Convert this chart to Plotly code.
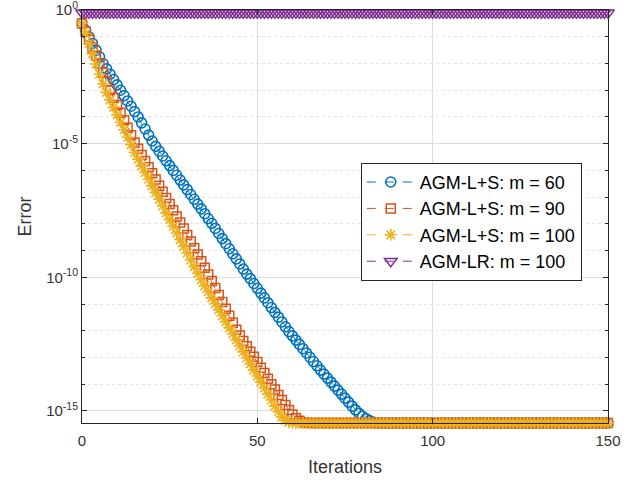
import plotly.graph_objects as go

# log10(error) read per iteration from the reference
blue_m60 = [
    -0.50, -0.75, -1.00, -1.25, -1.50, -1.75, -2.00, -2.20, -2.40, -2.60,
    -2.80, -3.00, -3.20, -3.40, -3.60, -3.80, -4.00, -4.22, -4.45, -4.68,
    -4.90, -5.10, -5.28, -5.46, -5.64, -5.82, -6.00, -6.18, -6.36, -6.54,
    -6.72, -6.90, -7.08, -7.26, -7.44, -7.62, -7.80, -7.98, -8.17, -8.36,
    -8.55, -8.74, -8.93, -9.12, -9.31, -9.50, -9.69, -9.88, -10.05, -10.23,
    -10.41, -10.59, -10.77, -10.95, -11.13, -11.31, -11.49, -11.67, -11.85, -12.03,
    -12.19, -12.35, -12.51, -12.67, -12.83, -12.99, -13.15, -13.31, -13.47, -13.62,
    -13.77, -13.92, -14.07, -14.22, -14.37, -14.52, -14.67, -14.82, -14.96, -15.09,
    -15.20, -15.29, -15.36, -15.41, -15.44,
    -15.45, -15.45, -15.45, -15.45, -15.45, -15.45, -15.45, -15.45, -15.45, -15.45,
    -15.45, -15.45, -15.45, -15.45, -15.45, -15.45, -15.45, -15.45, -15.45, -15.45,
    -15.45, -15.45, -15.45, -15.45, -15.45, -15.45, -15.45, -15.45, -15.45, -15.45,
    -15.45, -15.45, -15.45, -15.45, -15.45, -15.45, -15.45, -15.45, -15.45, -15.45,
    -15.45, -15.45, -15.45, -15.45, -15.45, -15.45, -15.45, -15.45, -15.45, -15.45,
    -15.45, -15.45, -15.45, -15.45, -15.45, -15.45, -15.45, -15.45, -15.45, -15.45,
    -15.45, -15.45, -15.45, -15.45, -15.45, -15.45,
]

red_m90 = [
    -0.50, -0.80, -1.10, -1.40, -1.70, -2.00, -2.35, -2.67, -3.00, -3.28,
    -3.56, -3.84, -4.12, -4.40, -4.68, -4.96, -5.19, -5.42, -5.65, -5.88,
    -6.11, -6.34, -6.57, -6.80, -7.03, -7.26, -7.49, -7.72, -7.95, -8.17,
    -8.42, -8.66, -8.91, -9.15, -9.40, -9.64, -9.89, -10.14, -10.40, -10.66,
    -10.92, -11.18, -11.44, -11.70, -11.96, -12.18, -12.38, -12.58, -12.78, -12.97,
    -13.17, -13.38, -13.58, -13.79, -14.00, -14.20, -14.40, -14.59, -14.78, -14.96,
    -15.13, -15.27, -15.37, -15.42, -15.44,
    -15.45, -15.45, -15.45, -15.45, -15.45, -15.45, -15.45, -15.45, -15.45, -15.45,
    -15.45, -15.45, -15.45, -15.45, -15.45, -15.45, -15.45, -15.45, -15.45, -15.45,
    -15.45, -15.45, -15.45, -15.45, -15.45, -15.45, -15.45, -15.45, -15.45, -15.45,
    -15.45, -15.45, -15.45, -15.45, -15.45, -15.45, -15.45, -15.45, -15.45, -15.45,
    -15.45, -15.45, -15.45, -15.45, -15.45, -15.45, -15.45, -15.45, -15.45, -15.45,
    -15.45, -15.45, -15.45, -15.45, -15.45, -15.45, -15.45, -15.45, -15.45, -15.45,
    -15.45, -15.45, -15.45, -15.45, -15.45, -15.45, -15.45, -15.45, -15.45, -15.45,
    -15.45, -15.45, -15.45, -15.45, -15.45, -15.45, -15.45, -15.45, -15.45, -15.45,
    -15.45, -15.45, -15.45, -15.45, -15.45, -15.45,
]

yellow_m100 = [
    -0.50, -0.88, -1.26, -1.64, -2.02, -2.40, -2.76, -3.08, -3.36, -3.64,
    -3.92, -4.20, -4.48, -4.76, -5.04, -5.33, -5.58, -5.83, -6.08, -6.33,
    -6.58, -6.83, -7.08, -7.33, -7.59, -7.84, -8.09, -8.34, -8.59, -8.84,
    -9.09, -9.35, -9.60, -9.85, -10.09, -10.32, -10.54, -10.77, -10.99, -11.22,
    -11.44, -11.67, -11.89, -12.12, -12.34, -12.57, -12.79, -13.02, -13.24, -13.47,
    -13.69, -13.92, -14.14, -14.37, -14.59, -14.82, -15.03, -15.22, -15.35, -15.42,
    -15.44,
    -15.45, -15.45, -15.45, -15.45, -15.45, -15.45, -15.45, -15.45, -15.45, -15.45,
    -15.45, -15.45, -15.45, -15.45, -15.45, -15.45, -15.45, -15.45, -15.45, -15.45,
    -15.45, -15.45, -15.45, -15.45, -15.45, -15.45, -15.45, -15.45, -15.45, -15.45,
    -15.45, -15.45, -15.45, -15.45, -15.45, -15.45, -15.45, -15.45, -15.45, -15.45,
    -15.45, -15.45, -15.45, -15.45, -15.45, -15.45, -15.45, -15.45, -15.45, -15.45,
    -15.45, -15.45, -15.45, -15.45, -15.45, -15.45, -15.45, -15.45, -15.45, -15.45,
    -15.45, -15.45, -15.45, -15.45, -15.45, -15.45, -15.45, -15.45, -15.45, -15.45,
    -15.45, -15.45, -15.45, -15.45, -15.45, -15.45, -15.45, -15.45, -15.45, -15.45,
    -15.45, -15.45, -15.45, -15.45, -15.45, -15.45, -15.45, -15.45, -15.45, -15.45,
]

purple_lr = [
    -0.10, -0.10, -0.10, -0.10, -0.10, -0.10, -0.10, -0.10, -0.10, -0.10,
    -0.10, -0.10, -0.10, -0.10, -0.10, -0.10, -0.10, -0.10, -0.10, -0.10,
    -0.10, -0.10, -0.10, -0.10, -0.10, -0.10, -0.10, -0.10, -0.10, -0.10,
    -0.10, -0.10, -0.10, -0.10, -0.10, -0.10, -0.10, -0.10, -0.10, -0.10,
    -0.10, -0.10, -0.10, -0.10, -0.10, -0.10, -0.10, -0.10, -0.10, -0.10,
    -0.10, -0.10, -0.10, -0.10, -0.10, -0.10, -0.10, -0.10, -0.10, -0.10,
    -0.10, -0.10, -0.10, -0.10, -0.10, -0.10, -0.10, -0.10, -0.10, -0.10,
    -0.10, -0.10, -0.10, -0.10, -0.10, -0.10, -0.10, -0.10, -0.10, -0.10,
    -0.10, -0.10, -0.10, -0.10, -0.10, -0.10, -0.10, -0.10, -0.10, -0.10,
    -0.10, -0.10, -0.10, -0.10, -0.10, -0.10, -0.10, -0.10, -0.10, -0.10,
    -0.10, -0.10, -0.10, -0.10, -0.10, -0.10, -0.10, -0.10, -0.10, -0.10,
    -0.10, -0.10, -0.10, -0.10, -0.10, -0.10, -0.10, -0.10, -0.10, -0.10,
    -0.10, -0.10, -0.10, -0.10, -0.10, -0.10, -0.10, -0.10, -0.10, -0.10,
    -0.10, -0.10, -0.10, -0.10, -0.10, -0.10, -0.10, -0.10, -0.10, -0.10,
    -0.10, -0.10, -0.10, -0.10, -0.10, -0.10, -0.10, -0.10, -0.10, -0.10,
    -0.10,
]

series_names = ["AGM-L+S: m = 60", "AGM-L+S: m = 90", "AGM-L+S: m = 100", "AGM-LR: m = 100"]
x_ticks = [0, 50, 100, 150]
y_major = [1e0, 1e-5, 1e-10, 1e-15]
y_major_text = ["10<sup>0</sup>", "10<sup>-5</sup>", "10<sup>-10</sup>", "10<sup>-15</sup>"]
y_minor = [10.0 ** (-k) for k in range(1, 16) if k % 5 != 0]

styles = [
    ("#0072BD", "circle-open", 10, 1.6),
    ("#D95319", "square-open", 9, 1.5),
    ("#EDB120", "asterisk-open", 10, 1.6),
    ("#7E2F8E", "triangle-down-open", 11, 1.5),
]

fig = go.Figure()
for name, logs, (col, sym, sz, lw) in zip(series_names, [blue_m60, red_m90, yellow_m100, purple_lr], styles):
    fig.add_trace(go.Scatter(
        x=list(range(len(logs))),
        y=[10.0 ** v for v in logs],
        mode="lines+markers",
        name=name,
        line=dict(color=col, width=1, dash="dash"),
        marker=dict(symbol=sym, size=sz, color=col, line=dict(color=col, width=lw)),
        cliponaxis=False,
    ))

font_family = "Liberation Sans, Arial, Helvetica, sans-serif"
axis_col = "#262626"
label_col = "#333333"

fig.update_layout(
    width=641, height=482,
    margin=dict(l=82, r=33, t=10, b=59, autoexpand=False),
    paper_bgcolor="white", plot_bgcolor="white",
    font=dict(family=font_family, color=label_col, size=14),
    showlegend=True,
    legend=dict(
        x=0.53, y=0.63, xanchor="left", yanchor="top",
        bgcolor="white", bordercolor=axis_col, borderwidth=1,
        font=dict(size=18, color="#000000"),
        tracegroupgap=0, itemwidth=48,
    ),
)

fig.update_xaxes(
    range=[0, 150], tickvals=x_ticks, ticktext=[str(v) for v in x_ticks],
    automargin=False,
    showgrid=True, gridcolor="#dedede", gridwidth=1, zeroline=False,
    showline=True, linecolor=axis_col, linewidth=1, mirror="ticks",
    ticks="inside", ticklen=5, tickcolor=axis_col, ticklabelstandoff=4,
    tickfont=dict(size=15, color=label_col),
    title=dict(text="Iterations", font=dict(size=18, color=label_col), standoff=12),
)

fig.update_yaxes(
    type="log", range=[-15.45, 0.002],
    tickvals=y_major, ticktext=y_major_text,
    automargin=False, ticklabeloverflow="allow",
    showgrid=True, gridcolor="#dedede", gridwidth=1, zeroline=False,
    showline=True, linecolor=axis_col, linewidth=1, mirror="ticks",
    ticks="inside", ticklen=5, tickcolor=axis_col,
    tickfont=dict(size=15, color=label_col),
    minor=dict(tickvals=y_minor, ticks="inside", ticklen=3, tickcolor=axis_col,
               showgrid=True, gridcolor="#e4e4e4", griddash="dot", gridwidth=1),
    title=dict(text="Error", font=dict(size=18, color=label_col), standoff=9),
)

fig.write_html("out.html", config={"displayModeBar": False},
               post_script="document.body.style.margin='0';")
